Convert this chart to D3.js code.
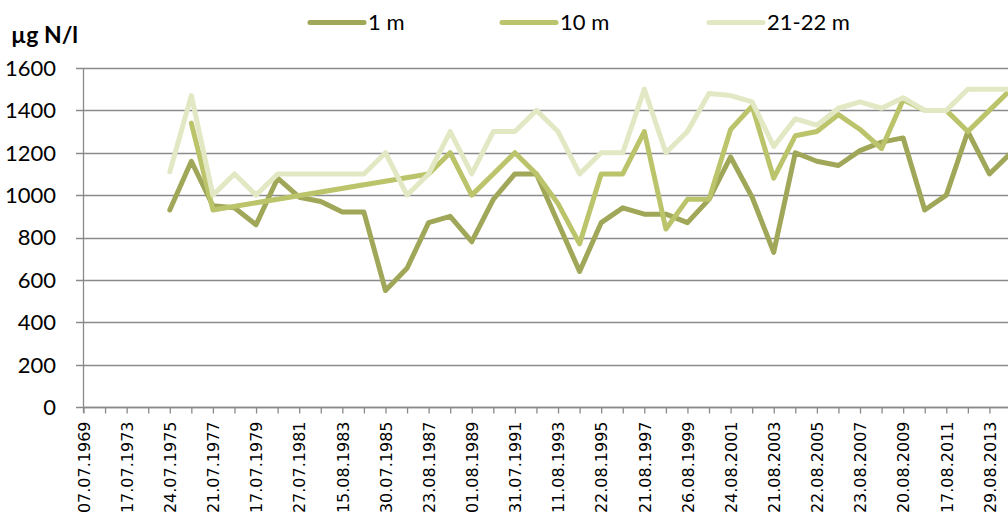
<!DOCTYPE html>
<html>
<head>
<meta charset="utf-8">
<script src="https://cdn.jsdelivr.net/npm/d3@7"></script>
<style>
  html, body { margin: 0; padding: 0; background: #fff; }
  svg { display: block; }
</style>
</head>
<body>
<svg id="chart" width="1008" height="517"></svg>
<script>
// Category axis: every category gets a tick; only every second one is labelled
const categories = [
  "07.07.1969", "", "17.07.1973", "", "24.07.1975", "", "21.07.1977", "", "17.07.1979", "",
  "27.07.1981", "", "15.08.1983", "", "30.07.1985", "", "23.08.1987", "", "01.08.1989", "",
  "31.07.1991", "", "11.08.1993", "", "22.08.1995", "", "21.08.1997", "", "26.08.1999", "",
  "24.08.2001", "", "21.08.2003", "", "22.08.2005", "", "23.08.2007", "", "20.08.2009", "",
  "17.08.2011", "", "29.08.2013", ""
];

const seriesNames = ["1 m", "10 m", "21-22 m"];

const values1m = [
  null, null, null, null, 930, 1160, 950, 940, 860, 1080,
  990, 970, 920, 920, 550, 655, 870, 900, 780, 980,
  1100, 1100, 870, 640, 870, 940, 910, 910, 870, 980,
  1180, 990, 730, 1200, 1160, 1140, 1210, 1250, 1270, 930,
  1000, 1300, 1100, 1200
];

const values10m = [
  null, null, null, null, null, 1340, 930, null, null, null,
  null, null, null, null, null, null, 1100, 1200, 1000, 1100,
  1200, 1100, 960, 770, 1100, 1100, 1300, 840, 980, 980,
  1310, 1420, 1080, 1280, 1300, 1380, 1310, 1220, 1450, 1400,
  1400, 1300, 1400, 1500
];

const values21m = [
  null, null, null, null, 1110, 1470, 1000, 1100, 1000, 1100,
  1100, 1100, 1100, 1100, 1200, 1000, 1100, 1300, 1100, 1300,
  1300, 1400, 1300, 1100, 1200, 1200, 1500, 1200, 1300, 1480,
  1470, 1440, 1230, 1360, 1330, 1410, 1440, 1410, 1460, 1400,
  1400, 1500, 1500, 1500
];

const yTicks = [0, 200, 400, 600, 800, 1000, 1200, 1400, 1600];
const colors = ["#a0a758", "#bbc46a", "#e2e8c3"];

const svg = d3.select("#chart");
const plotLeft = 83.5, plotRight = 1011, plotTop = 68, plotBottom = 407;

const x = d3.scalePoint()
  .domain(d3.range(categories.length))
  .range([plotLeft, plotRight])
  .padding(0);

const y = d3.scaleLinear()
  .domain([0, 1600])
  .range([plotBottom, plotTop]);

const gridColor = "#8a8a8a";

// horizontal gridlines (with tick marks extending left of the axis)
svg.append("g")
  .selectAll("line")
  .data(yTicks)
  .join("line")
  .attr("x1", plotLeft - 7.5)
  .attr("x2", 1008)
  .attr("y1", d => Math.round(y(d)) + 0.5)
  .attr("y2", d => Math.round(y(d)) + 0.5)
  .attr("stroke", gridColor)
  .attr("stroke-width", 1.3);

// y axis line
svg.append("line")
  .attr("x1", plotLeft).attr("x2", plotLeft)
  .attr("y1", y(1600)).attr("y2", plotBottom + 6)
  .attr("stroke", gridColor).attr("stroke-width", 1.3);

// y tick labels
svg.append("g")
  .selectAll("text")
  .data(yTicks)
  .join("text")
  .attr("x", 56)
  .attr("y", d => y(d))
  .attr("dy", "0.36em")
  .attr("text-anchor", "end")
  .attr("font-family", "Lato, 'Open Sans', sans-serif")
  .attr("font-size", 22)
  .attr("fill", "#000")
  .text(d => d);

// x axis via d3.axisBottom
const xAxis = d3.axisBottom(x)
  .tickSize(6)
  .tickSizeOuter(0)
  .tickFormat(i => categories[i]);

const gx = svg.append("g")
  .attr("transform", `translate(0,${Math.round(plotBottom) + 0.5})`)
  .call(xAxis);

gx.select(".domain")
  .attr("stroke", gridColor)
  .attr("stroke-width", 1.3)
  .attr("d", `M${plotLeft},0H1008`);
gx.selectAll(".tick line")
  .attr("stroke", gridColor)
  .attr("stroke-width", 1.3);
gx.selectAll(".tick text")
  .attr("font-family", "'DejaVu Sans', sans-serif")
  .attr("font-size", 16)
  .attr("fill", "#000")
  .attr("text-anchor", "end")
  .attr("transform", "rotate(-90)")
  .attr("x", -14)
  .attr("y", 0)
  .attr("dy", "0.36em");

// series lines
const allSeries = [values1m, values10m, values21m];
const line = d3.line()
  .x(d => x(d.i))
  .y(d => y(d.v));

allSeries.forEach((vals, k) => {
  const pts = vals.map((v, i) => ({ i, v })).filter(d => d.v !== null);
  svg.append("path")
    .datum(pts)
    .attr("d", line)
    .attr("fill", "none")
    .attr("stroke", colors[k])
    .attr("stroke-width", 5)
    .attr("stroke-linejoin", "round")
    .attr("stroke-linecap", "round");
});

// unit title
svg.append("text")
  .attr("x", 11)
  .attr("y", 43)
  .attr("font-family", "Lato, 'Open Sans', sans-serif")
  .attr("font-weight", "bold")
  .attr("font-size", 23)
  .attr("fill", "#000")
  .text("µg N/l");

// legend
const legendX = [310, 502, 709];
const leg = svg.append("g");
seriesNames.forEach((name, k) => {
  leg.append("line")
    .attr("x1", legendX[k]).attr("x2", legendX[k] + 54)
    .attr("y1", 22.5).attr("y2", 22.5)
    .attr("stroke", colors[k])
    .attr("stroke-width", 5)
    .attr("stroke-linecap", "round");
  leg.append("text")
    .attr("x", legendX[k] + 58)
    .attr("y", 30)
    .attr("font-family", "Lato, 'Open Sans', sans-serif")
    .attr("font-size", 22)
    .attr("fill", "#000")
    .text(name);
});
</script>
</body>
</html>
